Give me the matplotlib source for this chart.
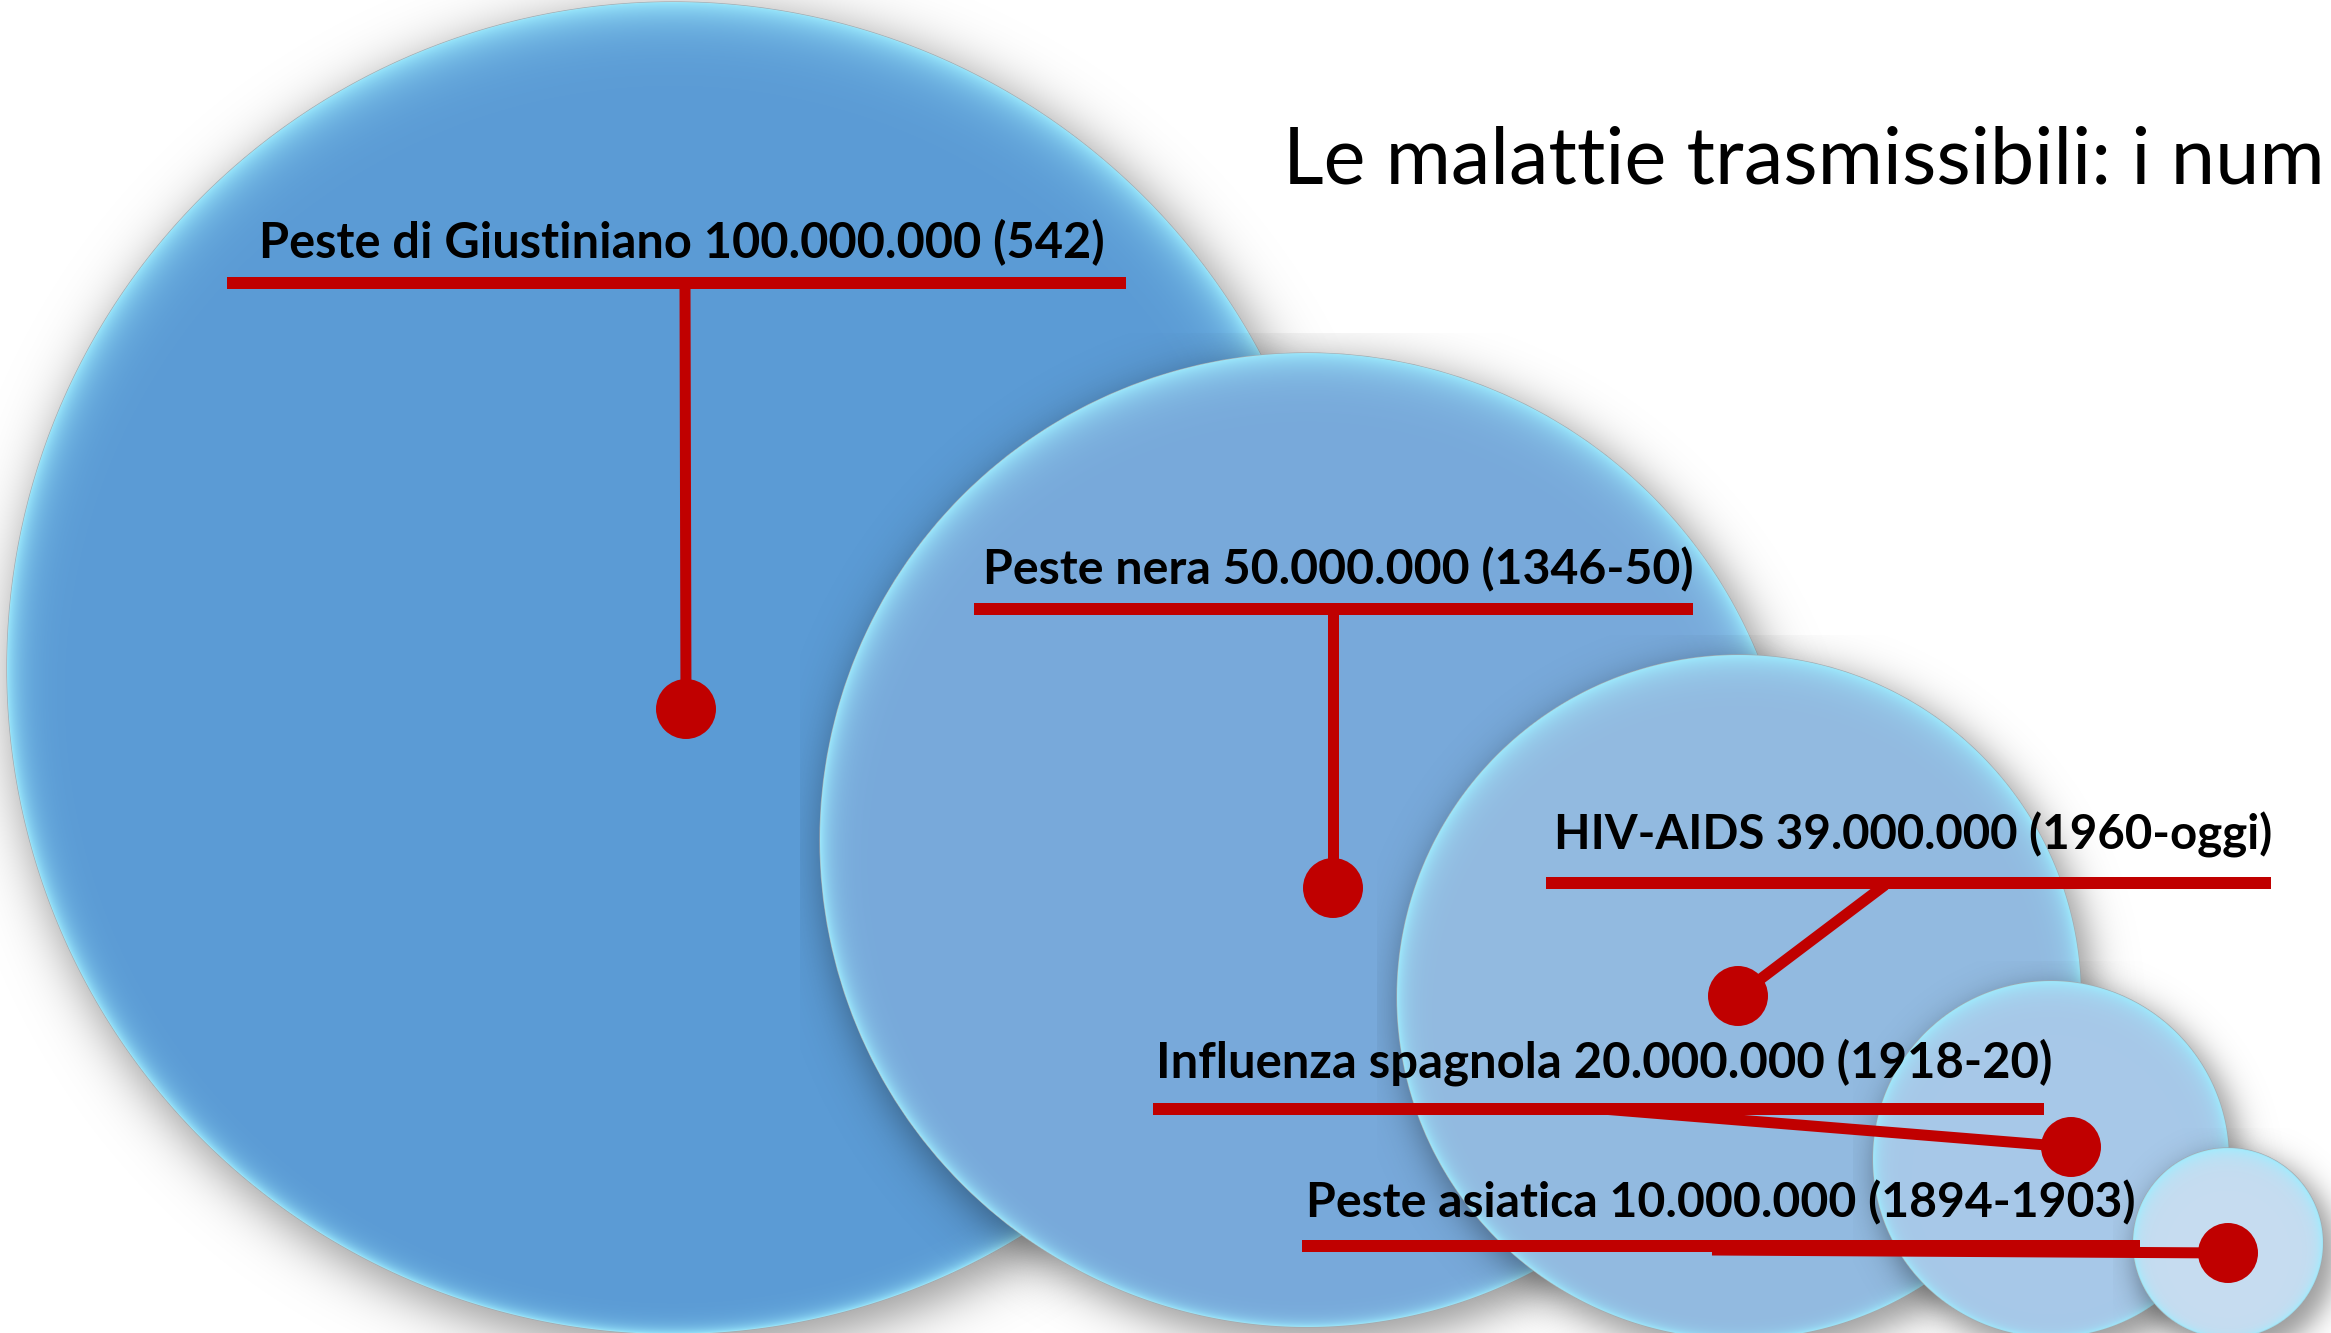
import numpy as np
import matplotlib
matplotlib.use("Agg")
import matplotlib.pyplot as plt
from matplotlib.patches import Circle
from matplotlib import font_manager

W, H, DPI = 2331, 1333, 100

# ---------------- data ----------------
diseases = ["Peste di Giustiniano", "Peste nera", "HIV-AIDS",
            "Influenza spagnola", "Peste asiatica"]
deaths = [100_000_000, 50_000_000, 39_000_000, 20_000_000, 10_000_000]
periods = ["542", "1346-50", "1960-oggi", "1918-20", "1894-1903"]
title = "Le malattie trasmissibili: i num"

# ---------------- layout (pixels) ----------------
circle_cx = [673, 1307, 1739, 2051, 2228]
circle_cy = [668, 840, 997, 1159, 1243]
circle_r = [666, 487, 342, 178, 95]
circle_fill = ["#5B9BD5", "#78A9DA", "#92BAE0", "#A7C8E8", "#C6DCF0"]

label_x = [259, 983, 1554, 1156, 1306]
label_right = [1105, 1693, 2271, 2050, 2135]
label_base = [258, 584, 850, 1078, 1217]
bar_x0 = [227, 974, 1546, 1153, 1302]
bar_x1 = [1126, 1693, 2271, 2044, 2140]
bar_y = [283, 609, 883, 1109, 1246]
leader_x0 = [685, 1333, 1885, 1602, 1712]
leader_y0 = [283, 609, 885, 1109, 1250]
dot_x = [686, 1333, 1738, 2071, 2228]
dot_y = [709, 888, 996, 1147, 1253]

RED = "#C00000"
PX = 72.0 / DPI  # points per pixel


def pick(names):
    avail = {f.name for f in font_manager.fontManager.ttflist}
    out = [n for n in names if n in avail]
    return out + ["DejaVu Sans"]


label_font = pick(["Liberation Sans Narrow", "Lato", "Open Sans"])
title_font = pick(["Liberation Sans Narrow", "Lato", "Open Sans"])

fig = plt.figure(figsize=(W / DPI, H / DPI), dpi=DPI)
ax = fig.add_axes([0, 0, 1, 1])
ax.set_xlim(0, W)
ax.set_ylim(H, 0)
ax.axis("off")


def region(cx, cy, r, m_lo, m_hi):
    x0 = int(max(0, cx - r - m_lo)); x1 = int(min(W, cx + r + m_hi))
    y0 = int(max(0, cy - r - m_lo)); y1 = int(min(H, cy + r + m_hi))
    xs = np.arange(x0, x1) + 0.5
    ys = np.arange(y0, y1) + 0.5
    X, Y = np.meshgrid(xs, ys)
    return x0, x1, y0, y1, X.astype(np.float32), Y.astype(np.float32)


for i, (cx, cy, r, col) in enumerate(zip(circle_cx, circle_cy, circle_r, circle_fill)):
    z = 10 * i
    # soft drop shadow (down-right)
    ox, oy, s = 8, 12, 7.0 + 0.012 * r
    x0, x1, y0, y1, X, Y = region(cx, cy, r, 20, 90)
    d = np.hypot(X - (cx + ox), Y - (cy + oy))
    a = 0.40 / (1.0 + np.exp((d - (r + 5)) / s))
    img = np.zeros(X.shape + (4,), dtype=np.float32)
    img[..., 3] = a
    ax.imshow(img, extent=(x0, x1, y1, y0), origin="upper",
              interpolation="nearest", zorder=z + 1, aspect="auto")
    # circle body
    ax.add_patch(Circle((cx, cy), r, facecolor=col, edgecolor="#A2A8AE",
                        linewidth=0.9, zorder=z + 2))
    # bevel / inner glow rim
    x0, x1, y0, y1, X, Y = region(cx, cy, r, 0, 0)
    d = np.hypot(X - cx, Y - cy)
    t = r - d
    up = (cy - Y) / r
    w = (6.0 + 0.018 * r) * (0.8 + 0.4 * up)
    a = 0.9 * np.exp(-np.clip(t, 0, None) / np.maximum(w, 2.0))
    a *= np.clip(t + 0.5, 0, 1)
    img = np.zeros(X.shape + (4,), dtype=np.float32)
    img[..., 0] = 0.62
    img[..., 1] = 0.93
    img[..., 2] = 1.0
    img[..., 3] = a
    ax.imshow(img, extent=(x0, x1, y1, y0), origin="upper",
              interpolation="bilinear", zorder=z + 3, aspect="auto")

ax.set_xlim(0, W)
ax.set_ylim(H, 0)

# red connectors
for i in range(len(diseases)):
    ax.plot([bar_x0[i], bar_x1[i]], [bar_y[i], bar_y[i]], color=RED,
            lw=12 * PX, solid_capstyle="butt", zorder=100)
    ax.plot([leader_x0[i], dot_x[i]], [leader_y0[i], dot_y[i]], color=RED,
            lw=11 * PX, solid_capstyle="butt", zorder=100)
ax.scatter(dot_x, dot_y, s=(60 * PX) ** 2, color=RED, edgecolors="none", zorder=101)

# labels
fig.canvas.draw()
renderer = fig.canvas.get_renderer()


def fitted_text(x, y, s, target_w, weight, family, fs0):
    t = ax.text(x, y, s, ha="left", va="baseline", fontsize=fs0,
                fontweight=weight, family=family, color="black", zorder=110)
    bb = t.get_window_extent(renderer=renderer)
    t.set_fontsize(fs0 * target_w / bb.width)
    return t


for i, name in enumerate(diseases):
    num = f"{deaths[i]:,}".replace(",", ".")
    s = f"{name} {num} ({periods[i]})"
    fitted_text(label_x[i], label_base[i], s, label_right[i] - label_x[i],
                "bold", label_font, 34)

fitted_text(1283, 184, title, 2325 - 1283, "normal", title_font, 60)

fig.savefig("out.png", dpi=DPI)
